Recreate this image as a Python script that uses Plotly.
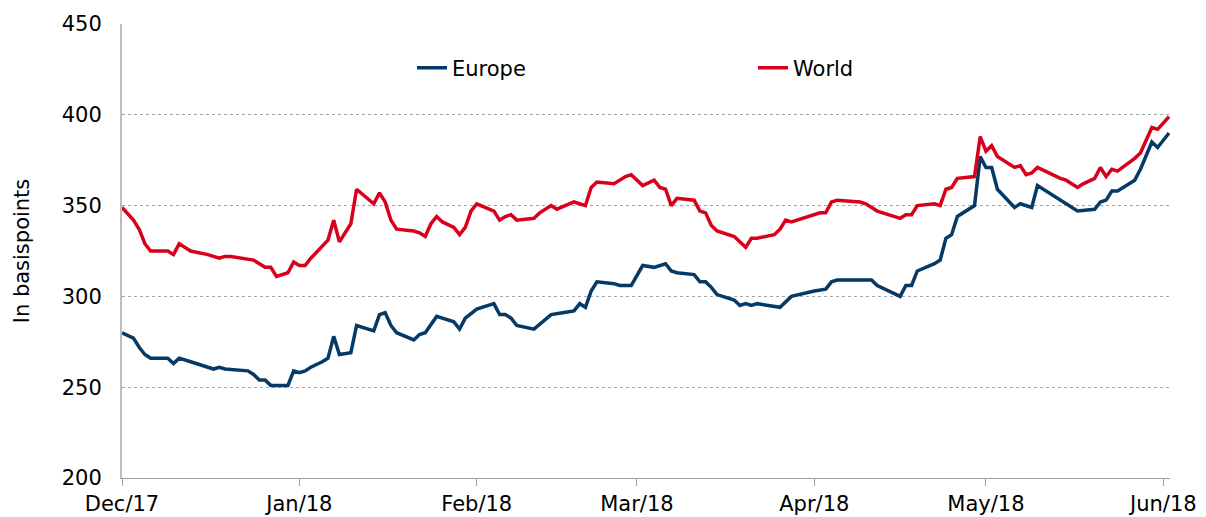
import plotly.graph_objects as go

# ---- data ----
world_dates = [
    "2017-12-01", "2017-12-03", "2017-12-04", "2017-12-05", "2017-12-06", "2017-12-09", "2017-12-10",
    "2017-12-11", "2017-12-13", "2017-12-16", "2017-12-18", "2017-12-19", "2017-12-20", "2017-12-24",
    "2017-12-26", "2017-12-27", "2017-12-28", "2017-12-30", "2017-12-31", "2018-01-01", "2018-01-02",
    "2018-01-03", "2018-01-06", "2018-01-07", "2018-01-08", "2018-01-10", "2018-01-11", "2018-01-14",
    "2018-01-15", "2018-01-16", "2018-01-17", "2018-01-18", "2018-01-21", "2018-01-22", "2018-01-23",
    "2018-01-24", "2018-01-25", "2018-01-26", "2018-01-28", "2018-01-29", "2018-01-30", "2018-01-31",
    "2018-02-01", "2018-02-04", "2018-02-05", "2018-02-06", "2018-02-07", "2018-02-08", "2018-02-11",
    "2018-02-12", "2018-02-14", "2018-02-15", "2018-02-18", "2018-02-20", "2018-02-21", "2018-02-22",
    "2018-02-25", "2018-02-27", "2018-02-28", "2018-03-02", "2018-03-04", "2018-03-05", "2018-03-06",
    "2018-03-07", "2018-03-08", "2018-03-11", "2018-03-12", "2018-03-13", "2018-03-14", "2018-03-15",
    "2018-03-18", "2018-03-20", "2018-03-21", "2018-03-22", "2018-03-25", "2018-03-26", "2018-03-27",
    "2018-03-28", "2018-04-02", "2018-04-03", "2018-04-04", "2018-04-05", "2018-04-09", "2018-04-10",
    "2018-04-12", "2018-04-16", "2018-04-17", "2018-04-18", "2018-04-19", "2018-04-22", "2018-04-23",
    "2018-04-24", "2018-04-25", "2018-04-26", "2018-04-29", "2018-04-30", "2018-05-01", "2018-05-02",
    "2018-05-03", "2018-05-06", "2018-05-07", "2018-05-08", "2018-05-09", "2018-05-10", "2018-05-14",
    "2018-05-15", "2018-05-17", "2018-05-18", "2018-05-20", "2018-05-21", "2018-05-22", "2018-05-23",
    "2018-05-24", "2018-05-27", "2018-05-28", "2018-05-30", "2018-05-31", "2018-06-02",
]
world_values = [
    349, 342, 337, 329, 325, 325, 323,
    329, 325, 323, 321, 322, 322, 320,
    316, 316, 311, 313, 319, 317, 317,
    321, 331, 342, 330, 340, 359, 351,
    357, 352, 342, 337, 336, 335, 333,
    340, 344, 341, 338, 334, 338, 347,
    351, 347, 342, 344, 345, 342, 343,
    346, 350, 348, 352, 350, 360, 363,
    362, 366, 367, 361, 364, 360, 359,
    350, 354, 353, 347, 346, 339, 336,
    333, 327, 332, 332, 334, 337, 342,
    341, 346, 346, 352, 353, 352, 351,
    347, 343, 345, 345, 350, 351, 350,
    359, 360, 365, 366, 388, 380, 383,
    377, 371, 372, 367, 368, 371, 365,
    364, 360, 362, 365, 371, 366, 370,
    369, 376, 379, 393, 392, 399,
]

europe_dates = [
    "2017-12-01", "2017-12-03", "2017-12-04", "2017-12-05", "2017-12-06", "2017-12-09", "2017-12-10",
    "2017-12-11", "2017-12-13", "2017-12-16", "2017-12-17", "2017-12-18", "2017-12-19", "2017-12-23",
    "2017-12-24", "2017-12-25", "2017-12-26", "2017-12-27", "2017-12-30", "2017-12-31", "2018-01-01",
    "2018-01-02", "2018-01-03", "2018-01-05", "2018-01-06", "2018-01-07", "2018-01-08", "2018-01-10",
    "2018-01-11", "2018-01-14", "2018-01-15", "2018-01-16", "2018-01-17", "2018-01-18", "2018-01-21",
    "2018-01-22", "2018-01-23", "2018-01-25", "2018-01-28", "2018-01-29", "2018-01-30", "2018-02-01",
    "2018-02-04", "2018-02-05", "2018-02-06", "2018-02-07", "2018-02-08", "2018-02-11", "2018-02-13",
    "2018-02-14", "2018-02-16", "2018-02-18", "2018-02-19", "2018-02-20", "2018-02-21", "2018-02-22",
    "2018-02-25", "2018-02-26", "2018-02-28", "2018-03-02", "2018-03-04", "2018-03-06", "2018-03-07",
    "2018-03-08", "2018-03-11", "2018-03-12", "2018-03-13", "2018-03-14", "2018-03-15", "2018-03-18",
    "2018-03-19", "2018-03-20", "2018-03-21", "2018-03-22", "2018-03-26", "2018-03-28", "2018-04-01",
    "2018-04-03", "2018-04-04", "2018-04-05", "2018-04-11", "2018-04-12", "2018-04-16", "2018-04-17",
    "2018-04-18", "2018-04-19", "2018-04-22", "2018-04-23", "2018-04-24", "2018-04-25", "2018-04-26",
    "2018-04-29", "2018-04-30", "2018-05-01", "2018-05-02", "2018-05-03", "2018-05-06", "2018-05-07",
    "2018-05-09", "2018-05-10", "2018-05-17", "2018-05-20", "2018-05-21", "2018-05-22", "2018-05-23",
    "2018-05-24", "2018-05-27", "2018-05-28", "2018-05-30", "2018-05-31", "2018-06-02",
]
europe_values = [
    280, 277, 272, 268, 266, 266, 263,
    266, 264, 261, 260, 261, 260, 259,
    257, 254, 254, 251, 251, 259, 258,
    259, 261, 264, 266, 278, 268, 269,
    284, 281, 290, 291, 284, 280, 276,
    279, 280, 289, 286, 282, 288, 293,
    296, 290, 290, 288, 284, 282, 287,
    290, 291, 292, 296, 294, 303, 308,
    307, 306, 306, 317, 316, 318, 314,
    313, 312, 308, 308, 305, 301, 298,
    295, 296, 295, 296, 294, 300, 303,
    304, 308, 309, 309, 306, 300, 306,
    306, 314, 318, 320, 332, 334, 344,
    350, 377, 371, 371, 359, 349, 351,
    349, 361, 347, 348, 352, 353, 358,
    358, 364, 370, 385, 382, 390,
]

series_names = ["Europe", "World"]
series_colors = ["#053A66", "#D9001B"]
y_title = "In basispoints"
x_range = ["2017-12-01", "2018-06-02 04:00"]
y_range = [200, 450]

FONT = "DejaVu Sans, Verdana, sans-serif"
FS = 21

fig = go.Figure()
fig.add_trace(go.Scatter(
    x=europe_dates, y=europe_values, name=series_names[0], mode="lines",
    line=dict(color=series_colors[0], width=3.5), legend="legend", showlegend=True,
))
fig.add_trace(go.Scatter(
    x=world_dates, y=world_values, name=series_names[1], mode="lines",
    line=dict(color=series_colors[1], width=3.5), legend="legend2", showlegend=True,
))

legend_common = dict(
    orientation="h", xref="container", yref="container",
    xanchor="left", yanchor="middle",
    font=dict(family=FONT, size=FS, color="#000000"),
    bgcolor="rgba(0,0,0,0)", borderwidth=0,
)

fig.update_layout(
    width=1206, height=517,
    showlegend=True,
    margin=dict(l=122, r=36, t=24, b=39, autoexpand=False),
    paper_bgcolor="white", plot_bgcolor="white",
    font=dict(family=FONT, size=FS, color="#000000"),
    legend=dict(x=412 / 1206, y=1 - 68 / 517, **legend_common),
    legend2=dict(x=753 / 1206, y=1 - 68 / 517, **legend_common),
    xaxis=dict(
        type="date", range=x_range, dtick="M1", tick0="2017-12-01",
        tickformat="%b/%y", showgrid=False, zeroline=False,
        showline=True, linecolor="#a0a0a0", linewidth=1.2,
        ticks="outside", ticklen=7, tickwidth=1.2, tickcolor="#a0a0a0",
        tickfont=dict(family=FONT, size=FS, color="#000000"),
    ),
    yaxis=dict(
        range=y_range, dtick=50, tick0=200,
        showgrid=True, gridcolor="#a6a6a6", gridwidth=1, griddash="dot",
        zeroline=False, showline=True, linecolor="#bdbdbd", linewidth=2,
        ticks="", ticklabelstandoff=14,
        tickfont=dict(family=FONT, size=FS, color="#000000"),
        title=dict(text=y_title, font=dict(family=FONT, size=FS, color="#000000"), standoff=26),
    ),
)

fig.write_html(
    "out.html",
    config={"displayModeBar": False},
    post_script="document.body.style.margin='0';document.body.style.overflow='hidden';",
)
